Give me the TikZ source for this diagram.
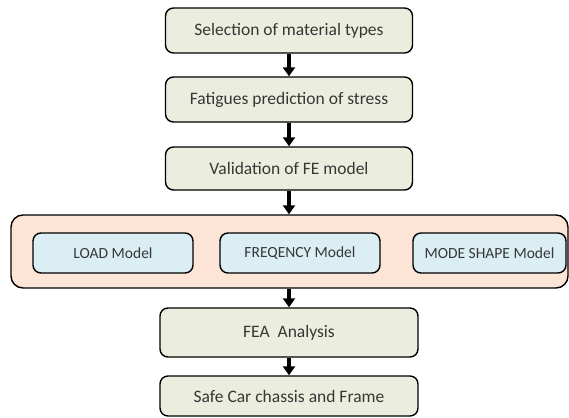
\documentclass[tikz,border=0pt]{standalone}
\usepackage{fontspec}
\setmainfont{Carlito}
\usetikzlibrary{arrows.meta}
\definecolor{boxgreen}{RGB}{235,237,222}
\definecolor{boxpeach}{RGB}{252,228,214}
\definecolor{boxblue}{RGB}{218,238,243}
\definecolor{txt}{RGB}{55,55,55}
\tikzset{
  stepbox/.style={draw=black, line width=1.4pt, rounded corners=8pt, fill=boxgreen,
    inner sep=0pt, text=txt, font=\fontsize{17.5}{20}\selectfont},
  bluebox/.style={draw=black, line width=1.4pt, rounded corners=8pt, fill=boxblue,
    inner sep=0pt, text=txt, font=\fontsize{15.5}{18}\selectfont},
  groupbox/.style={draw=black, line width=1.4pt, rounded corners=12pt, fill=boxpeach, inner sep=0pt},
  arr/.style={line width=3.8pt, -{Triangle[width=12pt,length=9pt]}, black}
}
\begin{document}
\begin{tikzpicture}[x=1pt,y=-1pt]
\useasboundingbox (0,0) rectangle (569,417);
\node[stepbox, minimum width=247pt, minimum height=45pt] (b1) at (289,30.5) {Selection of material types};
\node[stepbox, minimum width=247pt, minimum height=45pt] (b2) at (289,99.5) {Fatigues prediction of stress};
\node[stepbox, minimum width=247pt, minimum height=43pt] (b3) at (289,168.5) {Validation of FE model};
\node[groupbox, minimum width=557pt, minimum height=73pt] (grp) at (289.5,251.5) {};
\node[bluebox, minimum width=160pt, minimum height=40pt] (load) at (113,253) {LOAD Model};
\node[bluebox, minimum width=160pt, minimum height=40pt] (freq) at (300,253) {FREQENCY Model};
\node[bluebox, minimum width=153pt, minimum height=40pt] (mode) at (489.5,253) {MODE SHAPE Model};
\node[stepbox, minimum width=258pt, minimum height=49pt] (fea) at (289,332.5) {FEA\ \ Analysis};
\node[stepbox, minimum width=258pt, minimum height=40pt] (safe) at (289,396) {Safe Car chassis and Frame};
\draw[arr] (b1.south) -- (b2.north);
\draw[arr] (b2.south) -- (b3.north);
\draw[arr] (b3.south) -- (grp.north -| b3.south);
\draw[arr] (grp.south -| fea.north) -- (fea.north);
\draw[arr] (fea.south) -- (safe.north);
\end{tikzpicture}
\end{document}
